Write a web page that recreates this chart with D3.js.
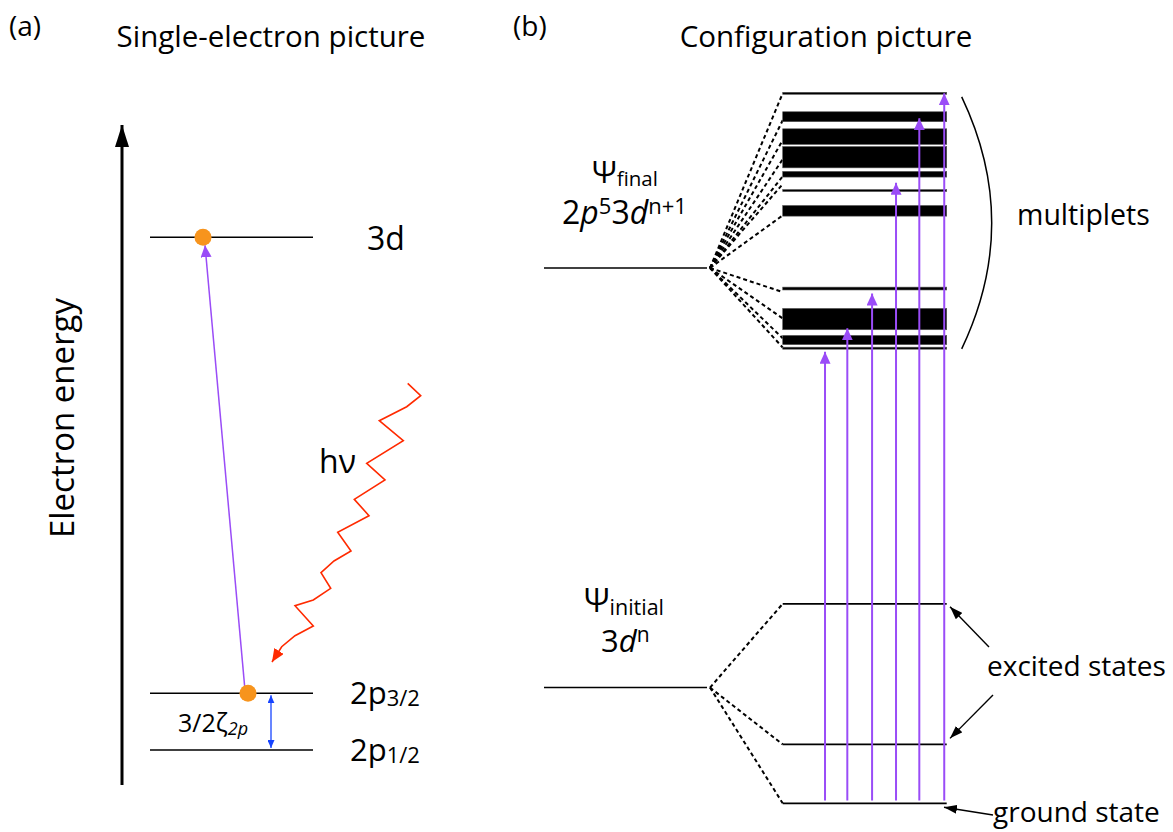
<!DOCTYPE html>
<html>
<head>
<meta charset="utf-8">
<script src="https://cdn.jsdelivr.net/npm/d3@7"></script>
<style>
  body { margin: 0; background: #fff; }
  text { font-family: "Open Sans", sans-serif; fill: #000; }
</style>
</head>
<body>
<svg id="chart" width="1173" height="832"></svg>
<script>
// panel (a): single-electron levels, arbitrary energy units (0..100 along the axis)
const singleNames = ["3d", "2p3/2", "2p1/2"];
const singleEnergies = [83.0, 13.9, 5.3];

// panel (b): configuration levels, arbitrary energy units (ground state = 0)
const finalEnergy = 75.4;
const initialEnergy = 16.3;
const initialStates = [28.1, 8.3, 0];
// multiplet bands [low, high]; equal values are drawn as thin lines
const multiplets = [
  [100, 100], [96.0, 97.4], [92.8, 95.0], [89.5, 92.5], [88.2, 89.0],
  [86.3, 86.3], [82.7, 84.2], [72.3, 72.7], [66.7, 69.7], [64.6, 65.9], [64.1, 64.1]
];
// dashed correlation lines from the final configuration to the multiplets
const fanTargets = [100, 96.2, 93.4, 90.7, 88.3, 87.2, 82.8, 72.0, 68.3, 65.5, 64.2];
// absorption transitions: position across the level (0..1) and end energy
const transPos = [0.258, 0.394, 0.545, 0.691, 0.833, 0.985];
const transEnd = [63.6, 66.9, 71.8, 87.4, 96.5, 100];

// photon squiggle
const photonPath = [
  [407.7, 383.3], [420.7, 395.7], [406.7, 406.7], [379.3, 420.7], [403.3, 440.7],
  [366.7, 463.3], [385, 480], [354.3, 499.3], [369, 515.7], [337.7, 532.3],
  [351, 551], [334, 561], [321, 572.7], [330.7, 588.3], [313.3, 600],
  [295, 605.7], [313.3, 626], [295, 635.7], [281.7, 646.7], [272, 662]
];

const purple = "#9a4cf7", orange = "#f7941d", red = "#ff2a00", blue = "#1744ff";

const svg = d3.select("#chart");
const defs = svg.append("defs");

function marker(id, color, w, h, orient) {
  defs.append("marker")
    .attr("id", id)
    .attr("viewBox", `0 ${-h / 2} ${w} ${h}`)
    .attr("refX", w).attr("refY", 0)
    .attr("markerWidth", w).attr("markerHeight", h)
    .attr("markerUnits", "userSpaceOnUse")
    .attr("orient", orient || "auto")
    .append("path")
      .attr("d", `M0,${-h / 2}L${w},0L0,${h / 2}Z`)
      .attr("fill", color);
}
marker("axisHead", "#000", 22, 14);
marker("purpleHead", purple, 12, 11);
marker("redHead", red, 13, 11);
marker("blueHead", blue, 8, 7, "auto-start-reverse");
marker("blackHead", "#000", 13, 9);

// ---------- panel (a)
const yA = d3.scaleLinear().domain([0, 100]).range([785, 125]);
const gA = svg.append("g");

gA.append("text").attr("x", 9).attr("y", 36).attr("font-size", 28).text("(a)");
gA.append("text").attr("x", 271).attr("y", 47).attr("font-size", 29.5)
  .attr("text-anchor", "middle").text("Single-electron picture");

gA.append("line")
  .attr("x1", 122).attr("x2", 122).attr("y1", yA(0)).attr("y2", yA(100))
  .attr("stroke", "#000").attr("stroke-width", 3)
  .attr("marker-end", "url(#axisHead)");
gA.append("text")
  .attr("transform", "translate(74,418) rotate(-90)")
  .attr("text-anchor", "middle").attr("font-size", 33).text("Electron energy");

gA.selectAll(".lvl").data(singleEnergies).enter().append("line")
  .attr("class", "lvl")
  .attr("x1", 150).attr("x2", 313)
  .attr("y1", d => yA(d)).attr("y2", d => yA(d))
  .attr("stroke", "#000").attr("stroke-width", 1.6);

const lbl = gA.selectAll(".lbl").data(singleNames).enter().append("text")
  .attr("class", "lbl")
  .attr("x", (d, i) => i === 0 ? 367 : 350)
  .attr("y", (d, i) => yA(singleEnergies[i]) + (i === 0 ? 13 : 11))
  .attr("font-size", (d, i) => i === 0 ? 32 : 31);
lbl.each(function(d) {
  const t = d3.select(this);
  if (d.startsWith("2p")) {
    t.append("tspan").text("2p");
    t.append("tspan").attr("font-size", 22).attr("dy", 2).text(d.slice(2));
  } else {
    t.text(d);
  }
});

// spin-orbit splitting
gA.append("line")
  .attr("x1", 271).attr("x2", 271)
  .attr("y1", yA(singleEnergies[1]) + 2).attr("y2", yA(singleEnergies[2]) - 2)
  .attr("stroke", blue).attr("stroke-width", 1.3)
  .attr("marker-start", "url(#blueHead)").attr("marker-end", "url(#blueHead)");
const so = gA.append("text").attr("x", 178).attr("y", 732).attr("font-size", 25);
so.append("tspan").text("3/2ζ");
so.append("tspan").attr("font-size", 18).attr("font-style", "italic").attr("dy", 3).text("2p");

// excitation arrow and electrons
gA.append("line")
  .attr("x1", 245).attr("y1", yA(singleEnergies[1]) - 3)
  .attr("x2", 205).attr("y2", yA(singleEnergies[0]) + 8)
  .attr("stroke", purple).attr("stroke-width", 1.5)
  .attr("marker-end", "url(#purpleHead)");
gA.selectAll(".el").data([singleEnergies[0], singleEnergies[1]]).enter().append("circle")
  .attr("class", "el")
  .attr("cx", (d, i) => i === 0 ? 203 : 248)
  .attr("cy", d => yA(d))
  .attr("r", 8.5).attr("fill", orange);

// photon
gA.append("path")
  .attr("d", d3.line()(photonPath))
  .attr("fill", "none").attr("stroke", red).attr("stroke-width", 1.6)
  .attr("marker-end", "url(#redHead)");
gA.append("text").attr("x", 319).attr("y", 473).attr("font-size", 32).text("hν");

// ---------- panel (b)
const yB = d3.scaleLinear().domain([0, 100]).range([803.3, 93.3]);
const xL = d3.scaleLinear().domain([0, 1]).range([782.7, 946.7]);
const gB = svg.append("g");

gB.append("text").attr("x", 513).attr("y", 36).attr("font-size", 28).text("(b)");
gB.append("text").attr("x", 826).attr("y", 47).attr("font-size", 29.5)
  .attr("text-anchor", "middle").text("Configuration picture");

// configuration levels
[finalEnergy, initialEnergy].forEach(e => {
  gB.append("line")
    .attr("x1", 544).attr("x2", 707)
    .attr("y1", yB(e)).attr("y2", yB(e))
    .attr("stroke", "#000").attr("stroke-width", 1.6);
});

const psiF = gB.append("text").attr("x", 592).attr("y", 183).attr("font-size", 31);
psiF.append("tspan").text("Ψ");
psiF.append("tspan").attr("font-size", 20.5).attr("dy", 3).text("final");
const cfgF = gB.append("text").attr("x", 562).attr("y", 224).attr("font-size", 32);
cfgF.append("tspan").text("2");
cfgF.append("tspan").attr("font-style", "italic").text("p");
cfgF.append("tspan").attr("font-size", 22).attr("dy", -10).text("5");
cfgF.append("tspan").attr("dy", 10).text("3");
cfgF.append("tspan").attr("font-style", "italic").text("d");
cfgF.append("tspan").attr("font-size", 22).attr("dy", -10).text("n+1");

const psiI = gB.append("text").attr("x", 584).attr("y", 612).attr("font-size", 32);
psiI.append("tspan").text("Ψ");
psiI.append("tspan").attr("font-size", 21.5).attr("dy", 3).text("initial");
const cfgI = gB.append("text").attr("x", 601).attr("y", 652).attr("font-size", 31);
cfgI.append("tspan").text("3");
cfgI.append("tspan").attr("font-style", "italic").text("d");
cfgI.append("tspan").attr("font-size", 21).attr("dy", -10).text("n");

// dashed splitting lines
function dashedFan(originE, targets) {
  gB.selectAll(null).data(targets).enter().append("line")
    .attr("x1", 710).attr("y1", yB(originE))
    .attr("x2", xL(0)).attr("y2", d => yB(d))
    .attr("stroke", "#000").attr("stroke-width", 2)
    .attr("stroke-dasharray", "4,3");
}
dashedFan(finalEnergy, fanTargets);
dashedFan(initialEnergy, initialStates);

// multiplets
gB.selectAll(".band").data(multiplets).enter().append("rect")
  .attr("class", "band")
  .attr("x", xL(0)).attr("width", xL(1) - xL(0))
  .attr("y", d => d[0] === d[1] ? yB(d[1]) - 1 : yB(d[1]))
  .attr("height", d => d[0] === d[1] ? 2 : yB(d[0]) - yB(d[1]))
  .attr("fill", "#000").attr("stroke", "#555").attr("stroke-width", 0.6);

// initial states
gB.selectAll(".ist").data(initialStates).enter().append("line")
  .attr("class", "ist")
  .attr("x1", xL(0)).attr("x2", xL(1))
  .attr("y1", d => yB(d)).attr("y2", d => yB(d))
  .attr("stroke", "#000").attr("stroke-width", 1.8);

// transitions
gB.selectAll(".tr").data(transPos).enter().append("line")
  .attr("class", "tr")
  .attr("x1", d => xL(d)).attr("x2", d => xL(d))
  .attr("y1", yB(0.4)).attr("y2", (d, i) => yB(transEnd[i]))
  .attr("stroke", purple).attr("stroke-width", 2)
  .attr("marker-end", "url(#purpleHead)");

// multiplet bracket
const bTop = yB(99.5), bBot = yB(64.0);
gB.append("path")
  .attr("d", `M961.7,${bTop}Q1021.7,${(bTop + bBot) / 2} 961.7,${bBot}`)
  .attr("fill", "none").attr("stroke", "#000").attr("stroke-width", 1.5);
gB.append("text").attr("x", 1017).attr("y", 225).attr("font-size", 28.5).text("multiplets");

// state annotations
gB.append("text").attr("x", 987).attr("y", 676).attr("font-size", 28).text("excited states");
gB.append("text").attr("x", 993).attr("y", 822).attr("font-size", 28).text("ground state");
const notes = [
  [989, 647, 950, yB(initialStates[0]) + 3],
  [993, 695, 950, yB(initialStates[1]) - 6],
  [993, 815, 944, yB(initialStates[2]) + 4]
];
gB.selectAll(".note").data(notes).enter().append("line")
  .attr("class", "note")
  .attr("x1", d => d[0]).attr("y1", d => d[1])
  .attr("x2", d => d[2]).attr("y2", d => d[3])
  .attr("stroke", "#000").attr("stroke-width", 1.4)
  .attr("marker-end", "url(#blackHead)");
</script>
</body>
</html>
